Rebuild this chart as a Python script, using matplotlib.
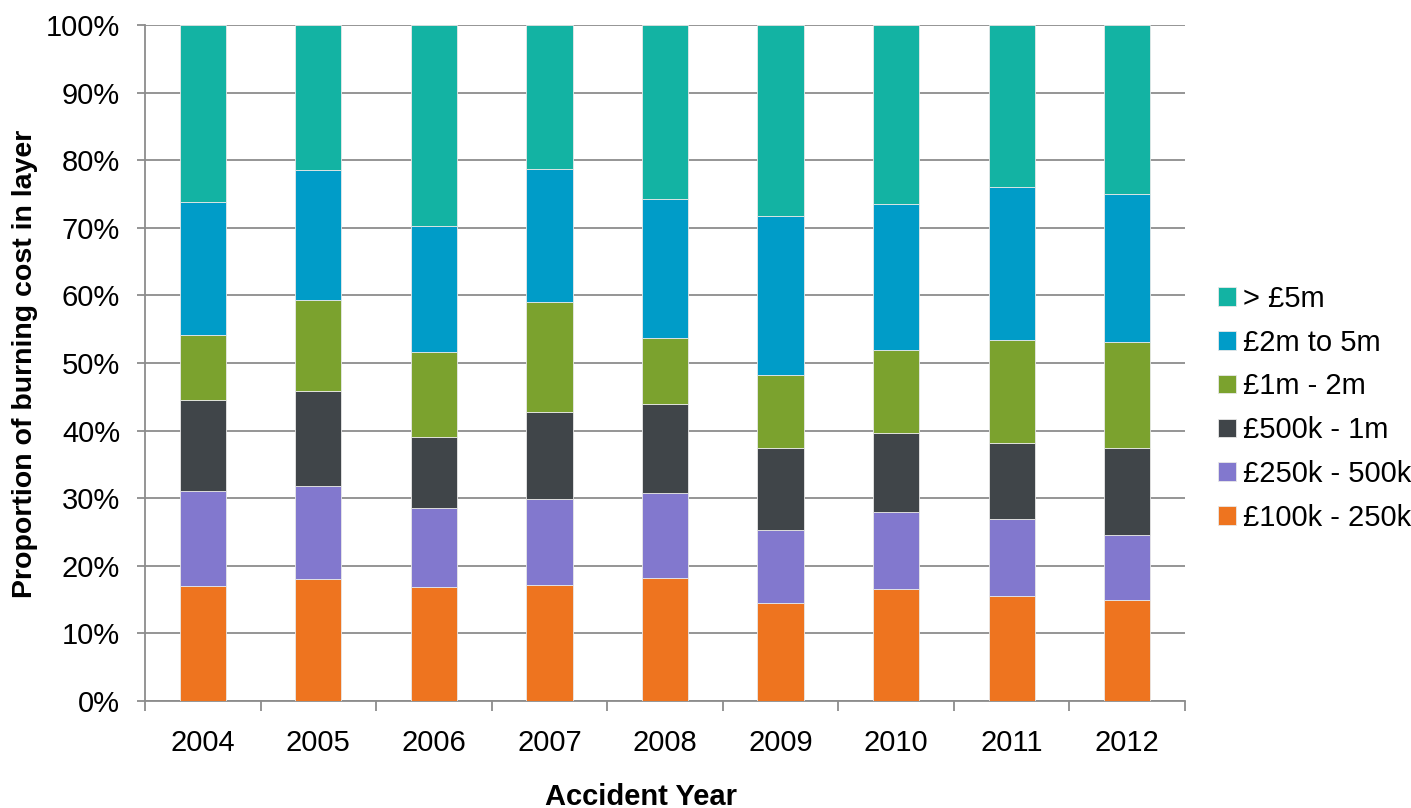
import numpy as np
import matplotlib.pyplot as plt
from matplotlib.ticker import PercentFormatter

plt.rcParams['font.family'] = ['Liberation Sans', 'DejaVu Sans']

years = ['2004', '2005', '2006', '2007', '2008', '2009', '2010', '2011', '2012']

# layer shares in %, bottom to top
band_100k_250k = [17.0, 18.0, 16.8, 17.1, 18.2, 14.5, 16.6, 15.6, 15.0]
band_250k_500k = [14.1, 13.8, 11.8, 12.8, 12.6, 10.8, 11.3, 11.3, 9.5]
band_500k_1m = [13.5, 14.1, 10.5, 12.9, 13.1, 12.2, 11.7, 11.3, 13.0]
band_1m_2m = [9.5, 13.4, 12.5, 16.3, 9.8, 10.7, 12.3, 15.2, 15.6]
band_2m_5m = [19.7, 19.2, 18.6, 19.6, 20.5, 23.5, 21.7, 22.6, 21.9]
band_5m_plus = [26.2, 21.5, 29.8, 21.3, 25.8, 28.3, 26.4, 24.0, 25.0]

labels = ['£100k - 250k', '£250k - 500k', '£500k - 1m', '£1m - 2m', '£2m to 5m', '> £5m']
colors = ['#EE741F', '#8278CE', '#404549', '#7BA22E', '#009CC8', '#13B3A3']
series = [band_100k_250k, band_250k_500k, band_500k_1m, band_1m_2m, band_2m_5m, band_5m_plus]

fig = plt.figure(figsize=(14.11, 8.08), dpi=100)
ax = fig.add_axes([0.1028, 0.1324, 0.737, 0.8366])

x = np.arange(len(years))
bottom = np.zeros(len(years))
for vals, lab, col in zip(series, labels, colors):
    ax.bar(x, vals, 0.4, bottom=bottom, color=col, label=lab,
           edgecolor='#e8e8e8', linewidth=0.6, zorder=3)
    bottom += np.array(vals)

ax.set_xlim(-0.5, len(years) - 0.5)
ax.set_ylim(0, 100)
ax.set_yticks(np.arange(0, 101, 10))
ax.yaxis.set_major_formatter(PercentFormatter(decimals=0))
ax.grid(axis='y', color='#8c8c8c', linewidth=1.3, zorder=0)

ax.set_xticks(x)
ax.set_xticklabels(years)
ax.set_xticks(np.arange(-0.5, len(years)), minor=True)
ax.tick_params(axis='x', which='major', length=0, pad=20, labelsize=21)
ax.tick_params(axis='x', which='minor', length=7, width=1.3, color='#8c8c8c')
ax.tick_params(axis='y', length=6, width=1.3, color='#8c8c8c', pad=12, labelsize=21)

for side in ['top', 'right']:
    ax.spines[side].set_visible(False)
for side in ['left', 'bottom']:
    ax.spines[side].set_color('#8c8c8c')
    ax.spines[side].set_linewidth(1.3)

fig.text(0.018, 0.55, 'Proportion of burning cost in layer', rotation=90,
         ha='center', va='center', fontsize=20.5, fontweight='bold')
fig.text(0.454, 0.014, 'Accident Year', ha='center', va='center',
         fontsize=21, fontweight='bold')

handles, labs = ax.get_legend_handles_labels()
ax.legend(handles[::-1], labs[::-1], loc='center left', bbox_to_anchor=(1.032, 0.433),
          frameon=False, fontsize=21, handlelength=0.6, handleheight=0.6,
          handletextpad=0.25, labelspacing=0.54, borderpad=0, borderaxespad=0)

plt.savefig('out.png', dpi=100)
